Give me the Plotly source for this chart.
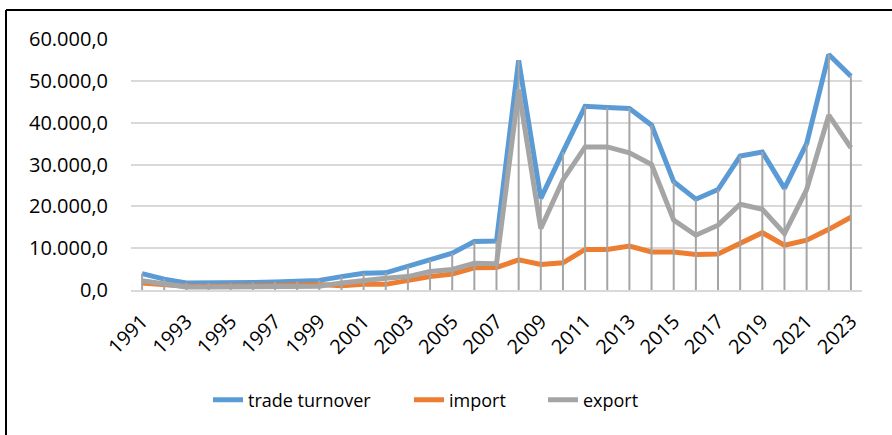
import plotly.graph_objects as go

years = [str(y) for y in range(1991, 2024)]
turnover = [3900, 2600, 1700, 1700, 1600, 1800, 1900, 2000, 2300, 3200, 4000, 4100, 5600, 7200, 8800,
            11600, 11700, 54900, 21900, 33000, 43900, 43600, 43400, 39400, 25900, 21700, 24000, 32000,
            33000, 24300, 35000, 56300, 51100]
imports = [1700, 1200, 900, 900, 900, 1000, 1100, 1200, 1300, 1000, 1350, 1350, 2400, 3200, 3800,
           5300, 5400, 7200, 6100, 6500, 9700, 9700, 10500, 9100, 9100, 8500, 8600, 11300, 13700,
           10700, 11900, 14500, 17400]
exports = [2200, 1400, 700, 700, 700, 800, 800, 700, 900, 1700, 2400, 2800, 3200, 4400, 4900,
           6400, 6300, 47900, 14700, 26300, 34200, 34200, 32800, 30000, 16700, 13100, 15500, 20500,
           19300, 13500, 24000, 41800, 34000]
tick_labels = years[::2]

FONT = "Open Sans"

fig = go.Figure()
fig.add_trace(go.Scatter(x=years, y=turnover, mode="lines", name="trade turnover",
                         line=dict(color="#5b9bd5", width=5), legend="legend"))
fig.add_trace(go.Scatter(x=years, y=imports, mode="lines", name="import",
                         line=dict(color="#ed7d31", width=5), legend="legend2"))
fig.add_trace(go.Scatter(x=years, y=exports, mode="lines", name="export",
                         line=dict(color="#a5a5a5", width=5), legend="legend3"))

# drop lines from the highest series down to the axis
dx, dy = [], []
for yr, a, b, c in zip(years, turnover, imports, exports):
    dx += [yr, yr, None]
    dy += [0, max(a, b, c), None]
fig.add_trace(go.Scatter(x=dx, y=dy, mode="lines", showlegend=False, hoverinfo="skip",
                         line=dict(color="#a5a5a5", width=2)))

W, H = 892, 435
L, R, T, B = 131, 30, 39, 145
pw, ph = W - L - R, H - T - B
fx = lambda px: (px - L) / pw
fy = lambda py: (H - B - py) / ph


def leg(text_px):
    return dict(orientation="h", x=fx(text_px - 40), xanchor="left", y=fy(400), yanchor="middle",
                font=dict(family=FONT, size=18), bgcolor="rgba(0,0,0,0)")


fig.update_layout(
    width=W, height=H,
    margin=dict(l=L, r=R, t=T, b=B),
    paper_bgcolor="white", plot_bgcolor="white",
    separators=",.",
    font=dict(family=FONT, size=20, color="#000000"),
    showlegend=True,
    legend=leg(248),
    legend2=leg(449),
    legend3=leg(583),
    xaxis=dict(type="category", range=[-0.5, 32.5], tickmode="array", tickvals=tick_labels,
               ticktext=tick_labels, tickangle=-45, showgrid=False, showline=True,
               linecolor="#d9d9d9", linewidth=1.5, ticks="", ticklabelstandoff=10,
               tickfont=dict(family=FONT, size=20)),
    yaxis=dict(range=[0, 60000], dtick=10000, tickformat=",.1f", showgrid=True,
               gridcolor="#d9d9d9", gridwidth=1.5, zeroline=False, showline=False, ticks="",
               ticklabelstandoff=22, tickfont=dict(family=FONT, size=20)),
    shapes=[
        dict(type="line", xref="paper", yref="paper", x0=fx(6), x1=fx(6), y0=fy(10), y1=fy(460),
             line=dict(color="black", width=2)),
        dict(type="line", xref="paper", yref="paper", x0=fx(6), x1=fx(920), y0=fy(10), y1=fy(10),
             line=dict(color="black", width=2)),
    ],
)

fig.write_html("out.html", config={"displayModeBar": False},
               post_script="document.body.style.margin='0';document.body.style.overflow='hidden';")
